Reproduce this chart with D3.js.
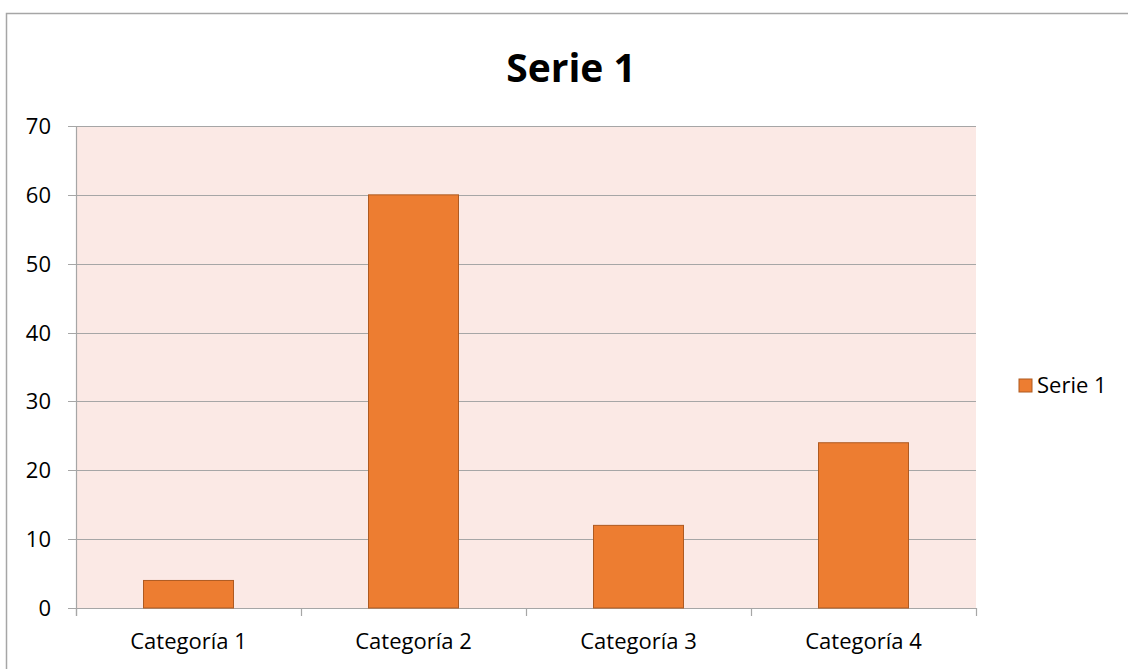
<!DOCTYPE html>
<html lang="es">
<head>
  <meta charset="UTF-8">
  <title>Serie 1</title>
  <script src="https://d3js.org/d3.v7.min.js"></script>
  <style>
    body { margin: 0; background: #fff; font-family: "Open Sans", Lato, sans-serif; }
    svg { display: block; }
  </style>
</head>
<body>
  <svg width="1128" height="669"></svg>

  <script>
    const categories = ["Categoría 1", "Categoría 2", "Categoría 3", "Categoría 4"];
    const serie1 = [4, 60, 12, 24];
    const yTicks = [0, 10, 20, 30, 40, 50, 60, 70];

    const svg = d3.select("svg");
    const plotLeft = 76, plotRight = 976, plotTop = 126, plotBottom = 608;

    // outer chart frame (runs off the page on right and bottom)
    svg.append("rect")
      .attr("x", 6.5).attr("y", 13.5)
      .attr("width", 1140).attr("height", 680)
      .attr("fill", "none").attr("stroke", "#a6a6a6").attr("stroke-width", 1.5);

    svg.append("text")
      .attr("x", 571).attr("y", 82)
      .attr("text-anchor", "middle")
      .attr("font-size", "39px").attr("font-weight", "bold")
      .attr("fill", "#000")
      .text("Serie 1");

    const x = d3.scaleBand()
      .domain(categories)
      .range([plotLeft, plotRight])
      .paddingInner(0.6)
      .paddingOuter(0.3);

    const y = d3.scaleLinear().domain([0, 70]).range([plotBottom, plotTop]);

    svg.append("rect")
      .attr("x", plotLeft).attr("y", plotTop)
      .attr("width", plotRight - plotLeft).attr("height", plotBottom - plotTop)
      .attr("fill", "#fbe9e5");

    // gridlines
    svg.append("g")
      .selectAll("line")
      .data(yTicks)
      .enter()
      .append("line")
      .attr("x1", plotLeft - 8).attr("x2", plotRight)
      .attr("y1", d => Math.round(y(d)) + 0.5).attr("y2", d => Math.round(y(d)) + 0.5)
      .attr("stroke", "#a6a6a6").attr("stroke-width", 1.2);

    // y axis line
    svg.append("line")
      .attr("x1", plotLeft + 0.5).attr("x2", plotLeft + 0.5)
      .attr("y1", plotTop).attr("y2", plotBottom + 8)
      .attr("stroke", "#a6a6a6").attr("stroke-width", 1.2);

    // category separators
    const bounds = d3.range(categories.length + 1)
      .map(i => plotLeft + i * (plotRight - plotLeft) / categories.length);
    svg.append("g")
      .selectAll("line")
      .data(bounds)
      .enter()
      .append("line")
      .attr("x1", d => Math.round(d) + 0.5).attr("x2", d => Math.round(d) + 0.5)
      .attr("y1", plotBottom).attr("y2", plotBottom + 8)
      .attr("stroke", "#a6a6a6").attr("stroke-width", 1.2);

    // y labels
    svg.append("g")
      .selectAll("text")
      .data(yTicks)
      .enter()
      .append("text")
      .attr("x", 51)
      .attr("y", d => y(d) + 8)
      .attr("text-anchor", "end")
      .attr("font-size", "22px")
      .attr("fill", "#000")
      .text(d => d);

    // bars
    svg.append("g")
      .selectAll("rect")
      .data(serie1)
      .enter()
      .append("rect")
      .attr("x", (d, i) => x(categories[i]))
      .attr("y", d => y(d))
      .attr("width", x.bandwidth())
      .attr("height", d => plotBottom - y(d))
      .attr("fill", "#ed7d31")
      .attr("stroke", "#ae5a21")
      .attr("stroke-width", 1);

    // x labels
    svg.append("g")
      .selectAll("text")
      .data(categories)
      .enter()
      .append("text")
      .attr("x", d => x(d) + x.bandwidth() / 2)
      .attr("y", 649)
      .attr("text-anchor", "middle")
      .attr("font-size", "22px")
      .attr("fill", "#000")
      .text(d => d);

    // legend
    svg.append("rect")
      .attr("x", 1019).attr("y", 379)
      .attr("width", 13).attr("height", 13)
      .attr("fill", "#ed7d31").attr("stroke", "#ae5a21");
    svg.append("text")
      .attr("x", 1037).attr("y", 393)
      .attr("font-size", "22px")
      .attr("fill", "#000")
      .text("Serie 1");
  </script>
</body>
</html>
